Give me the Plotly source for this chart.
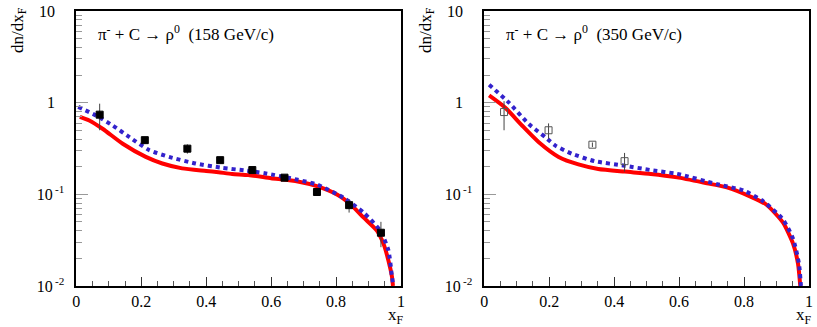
import plotly.graph_objects as go

# ---------------- data ----------------
# Left panel: pi- + C -> rho0 (158 GeV/c)
l_red_x = [0.011, 0.04, 0.082, 0.143, 0.214, 0.265, 0.326, 0.40, 0.438, 0.48, 0.53, 0.60, 0.682, 0.743, 0.804, 0.845, 0.885, 0.926, 0.946, 0.961, 0.972, 0.975]
l_red_y = [0.70, 0.64, 0.516, 0.356, 0.256, 0.217, 0.192, 0.180, 0.174, 0.167, 0.162, 0.150, 0.138, 0.122, 0.099, 0.0775, 0.0556, 0.040, 0.0288, 0.019, 0.0126, 0.0100]
l_blue_x = [0.006, 0.062, 0.113, 0.164, 0.225, 0.286, 0.367, 0.448, 0.52, 0.58, 0.682, 0.743, 0.824, 0.885, 0.936, 0.961, 0.972, 0.976]
l_blue_y = [0.90, 0.72, 0.56, 0.42, 0.303, 0.256, 0.217, 0.195, 0.182, 0.170, 0.144, 0.127, 0.091, 0.063, 0.040, 0.0245, 0.0126, 0.0100]
l_pts_x = [0.072, 0.211, 0.342, 0.443, 0.542, 0.641, 0.741, 0.840, 0.938]
l_pts_y = [0.74, 0.39, 0.315, 0.236, 0.184, 0.152, 0.106, 0.0762, 0.0381]
l_pts_ep = [0.235, 0.03, 0.036, 0.015, 0.01, 0.008, 0.008, 0.012, 0.012]
l_pts_em = [0.24, 0.03, 0.037, 0.015, 0.01, 0.008, 0.008, 0.013, 0.0116]

# Right panel: pi- + C -> rho0 (350 GeV/c)
r_red_x = [0.015, 0.065, 0.117, 0.168, 0.229, 0.29, 0.351, 0.432, 0.513, 0.594, 0.686, 0.747, 0.818, 0.869, 0.920, 0.951, 0.966, 0.973]
r_red_y = [1.20, 0.88, 0.56, 0.37, 0.256, 0.212, 0.189, 0.177, 0.167, 0.153, 0.132, 0.119, 0.095, 0.077, 0.049, 0.0288, 0.0175, 0.0100]
r_blue_x = [0.015, 0.076, 0.137, 0.188, 0.218, 0.269, 0.340, 0.432, 0.513, 0.594, 0.717, 0.798, 0.859, 0.920, 0.951, 0.969, 0.975]
r_blue_y = [1.57, 1.0, 0.585, 0.42, 0.342, 0.278, 0.23, 0.205, 0.184, 0.167, 0.129, 0.11, 0.084, 0.053, 0.0326, 0.0175, 0.0100]
r_pts_x = [0.061, 0.198, 0.333, 0.432]
r_pts_y = [0.79, 0.50, 0.348, 0.23]
r_pts_ep = [0.25, 0.094, 0.02, 0.053]
r_pts_em = [0.29, 0.096, 0.02, 0.053]


def exp_tag(s, hidden=False):
    if hidden:
        return "<sup><span style='color:rgba(0,0,0,0)'>" + s + "</span></sup>"
    return "<sup>\u2009" + s + "</sup>"


y_tickvals = [0.01, 0.1, 1, 10]
y_ticktext = ["10" + exp_tag("-2"), "10" + exp_tag("-1"), "1" + exp_tag("-1", True), "10" + exp_tag("-1", True)]
x_tickvals = [0, 0.2, 0.4, 0.6, 0.8, 1]
x_ticktext = ["0", "0.2", "0.4", "0.6", "0.8", "1"]

titles = ["π<sup>-</sup> + C → ρ<sup>0</sup>  (158 GeV/c)", "π<sup>-</sup> + C → ρ<sup>0</sup>  (350 GeV/c)"]

RED = "#ff0000"
BLUE = "#3322cc"
FONT = "Liberation Serif"
FS = 17
TFS = 16

fig = go.Figure()

panels = [
    ("x", "y", l_red_x, l_red_y, l_blue_x, l_blue_y, l_pts_x, l_pts_y, l_pts_ep, l_pts_em, "square", "black"),
    ("x2", "y2", r_red_x, r_red_y, r_blue_x, r_blue_y, r_pts_x, r_pts_y, r_pts_ep, r_pts_em, "square-open", "#555555"),
]

for xa, ya, rx, ry, bx, by, px, py, ep, em, sym, pc in panels:
    fig.add_trace(go.Scatter(x=rx, y=ry, mode="lines", xaxis=xa, yaxis=ya,
                             line=dict(color=RED, width=4, shape="spline", smoothing=0.6), showlegend=False))
    fig.add_trace(go.Scatter(x=bx, y=by, mode="lines", xaxis=xa, yaxis=ya,
                             line=dict(color=BLUE, width=4, dash="dot", shape="spline", smoothing=0.6), showlegend=False))
    fig.add_trace(go.Scatter(x=px, y=py, mode="markers", xaxis=xa, yaxis=ya,
                             marker=dict(symbol=sym, size=7, color=pc, line=dict(color=pc, width=1)),
                             error_y=dict(type="data", array=ep, arrayminus=em, color="#444444", thickness=1, width=0),
                             showlegend=False))

W, H = 817, 327
ml, mt, mb = 0, 7, 41
plot_h = H - mt - mb
doms = [[73 / W, 401 / W], [485 / W, 813 / W]]

common_x = dict(range=[0, 1], showline=True, linecolor="black", linewidth=1.5, mirror=True,
                ticks="inside", ticklen=9, tickcolor="#333333", tickvals=x_tickvals, ticktext=x_ticktext,
                minor=dict(ticks="inside", ticklen=5, dtick=0.05, tick0=0, tickcolor="#555555", showgrid=False),
                showgrid=False, zeroline=False, tickfont=dict(family=FONT, size=TFS, color="black"))
common_y = dict(type="log", range=[-2.0002, 1.0002], showline=True, linecolor="black", linewidth=1.5, mirror=True,
                ticks="inside", ticklen=12, tickcolor="#999999", tickvals=y_tickvals, ticktext=y_ticktext,
                ticklabelstandoff=7, ticklabeloverflow="allow",
                minor=dict(ticks="inside", ticklen=6, dtick="D1", tickcolor="#999999", showgrid=False),
                showgrid=False, zeroline=False, tickfont=dict(family=FONT, size=TFS, color="black"))

fig.update_layout(
    width=W, height=H,
    margin=dict(l=ml, r=0, t=mt, b=mb),
    paper_bgcolor="white", plot_bgcolor="white",
    font=dict(family=FONT),
    xaxis=dict(domain=doms[0], anchor="y", **common_x),
    yaxis=dict(domain=[0, 1], anchor="x", **common_y),
    xaxis2=dict(domain=doms[1], anchor="y2", **common_x),
    yaxis2=dict(domain=[0, 1], anchor="x2", **common_y),
)

annots = []
for i, (x0, x1) in enumerate(doms):
    annots.append(dict(text=titles[i], xref="paper", yref="paper", x=x0 + 20 / W, y=1 - 22 / plot_h,
                       xanchor="left", yanchor="middle", showarrow=False,
                       font=dict(family=FONT, size=FS, color="black")))
    annots.append(dict(text="dn/dx<sub>F</sub>", xref="paper", yref="paper", x=x0 - 58 / W, y=1 + 6 / plot_h,
                       xanchor="center", yanchor="top", textangle=-90, showarrow=False,
                       font=dict(family=FONT, size=FS, color="black")))
    annots.append(dict(text="x<sub>F</sub>", xref="paper", yref="paper", x=x1 - 5 / W, y=-30 / plot_h,
                       xanchor="center", yanchor="middle", showarrow=False,
                       font=dict(family=FONT, size=FS, color="black")))
fig.update_layout(annotations=annots)

fig.write_html("out.html", config={"displayModeBar": False},
               post_script="document.body.style.margin='0';document.body.style.padding='0';")
